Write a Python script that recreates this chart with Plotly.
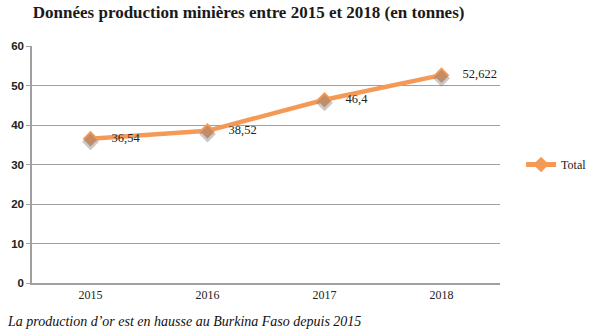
import plotly.graph_objects as go

years = ["2015", "2016", "2017", "2018"]
total = [36.54, 38.52, 46.4, 52.622]
y_ticks = [0, 10, 20, 30, 40, 50, 60]

labels = ["    " + str(v).replace(".", ",") for v in total]
orange = "#F59A56"
grid = "#A0A0A0"

fig = go.Figure()

# soft drop shadow under the markers, drawn on a slightly shifted overlay axis
fig.add_trace(go.Scatter(
    x=years, y=total, mode="markers", yaxis="y2", showlegend=False,
    hoverinfo="skip",
    marker=dict(symbol="diamond", size=13, color="rgba(120,120,130,0.4)", line=dict(width=0)),
))

fig.add_trace(go.Scatter(
    x=years, y=total, name="Total", mode="lines+markers+text",
    line=dict(color=orange, width=4.5),
    marker=dict(symbol="diamond", size=12, color=orange),
    text=labels, textposition="middle right",
    textfont=dict(family="Liberation Serif", size=12.5, color="#222222"),
    cliponaxis=False,
))

fig.update_layout(
    width=592, height=330,
    margin=dict(l=32, r=92, t=46, b=47, autoexpand=False),
    paper_bgcolor="white", plot_bgcolor="white",
    title=dict(
        text="Données production minières entre 2015 et 2018 (en tonnes)",
        x=0.42, xanchor="center", y=0.982, yanchor="top",
        font=dict(family="Liberation Serif", size=17, color="#1a1a1a", weight="bold"),
    ),
    xaxis=dict(
        type="category", range=[-0.5, 3.5], showgrid=False, showline=True,
        linecolor=grid, linewidth=1.5, ticks="",
        tickfont=dict(family="Liberation Serif", size=12, color="#222222"),
    ),
    yaxis=dict(
        range=[0, 60], tickvals=y_ticks, showgrid=True, gridcolor=grid, gridwidth=1,
        showline=True, linecolor=grid, linewidth=1.5, zeroline=False,
        ticks="outside", ticklen=4, tickcolor=grid,
        tickfont=dict(family="Liberation Sans", size=11.5, color="#222222", weight="bold"),
    ),
    yaxis2=dict(range=[0.8, 60.8], overlaying="y", visible=False),
    legend=dict(
        x=1.045, y=0.5, xanchor="left", yanchor="middle",
        font=dict(family="Liberation Serif", size=12, color="#222222"),
        itemwidth=30, itemsizing="constant", bgcolor="rgba(0,0,0,0)",
    ),
    annotations=[dict(
        text="La production d’or est en hausse au Burkina Faso depuis 2015",
        xref="paper", yref="paper", x=-0.058, y=-0.122, xanchor="left", yanchor="top",
        showarrow=False,
        font=dict(family="Liberation Serif", size=14, color="#111111", style="italic"),
    )],
)

fig.write_html("out.html")
